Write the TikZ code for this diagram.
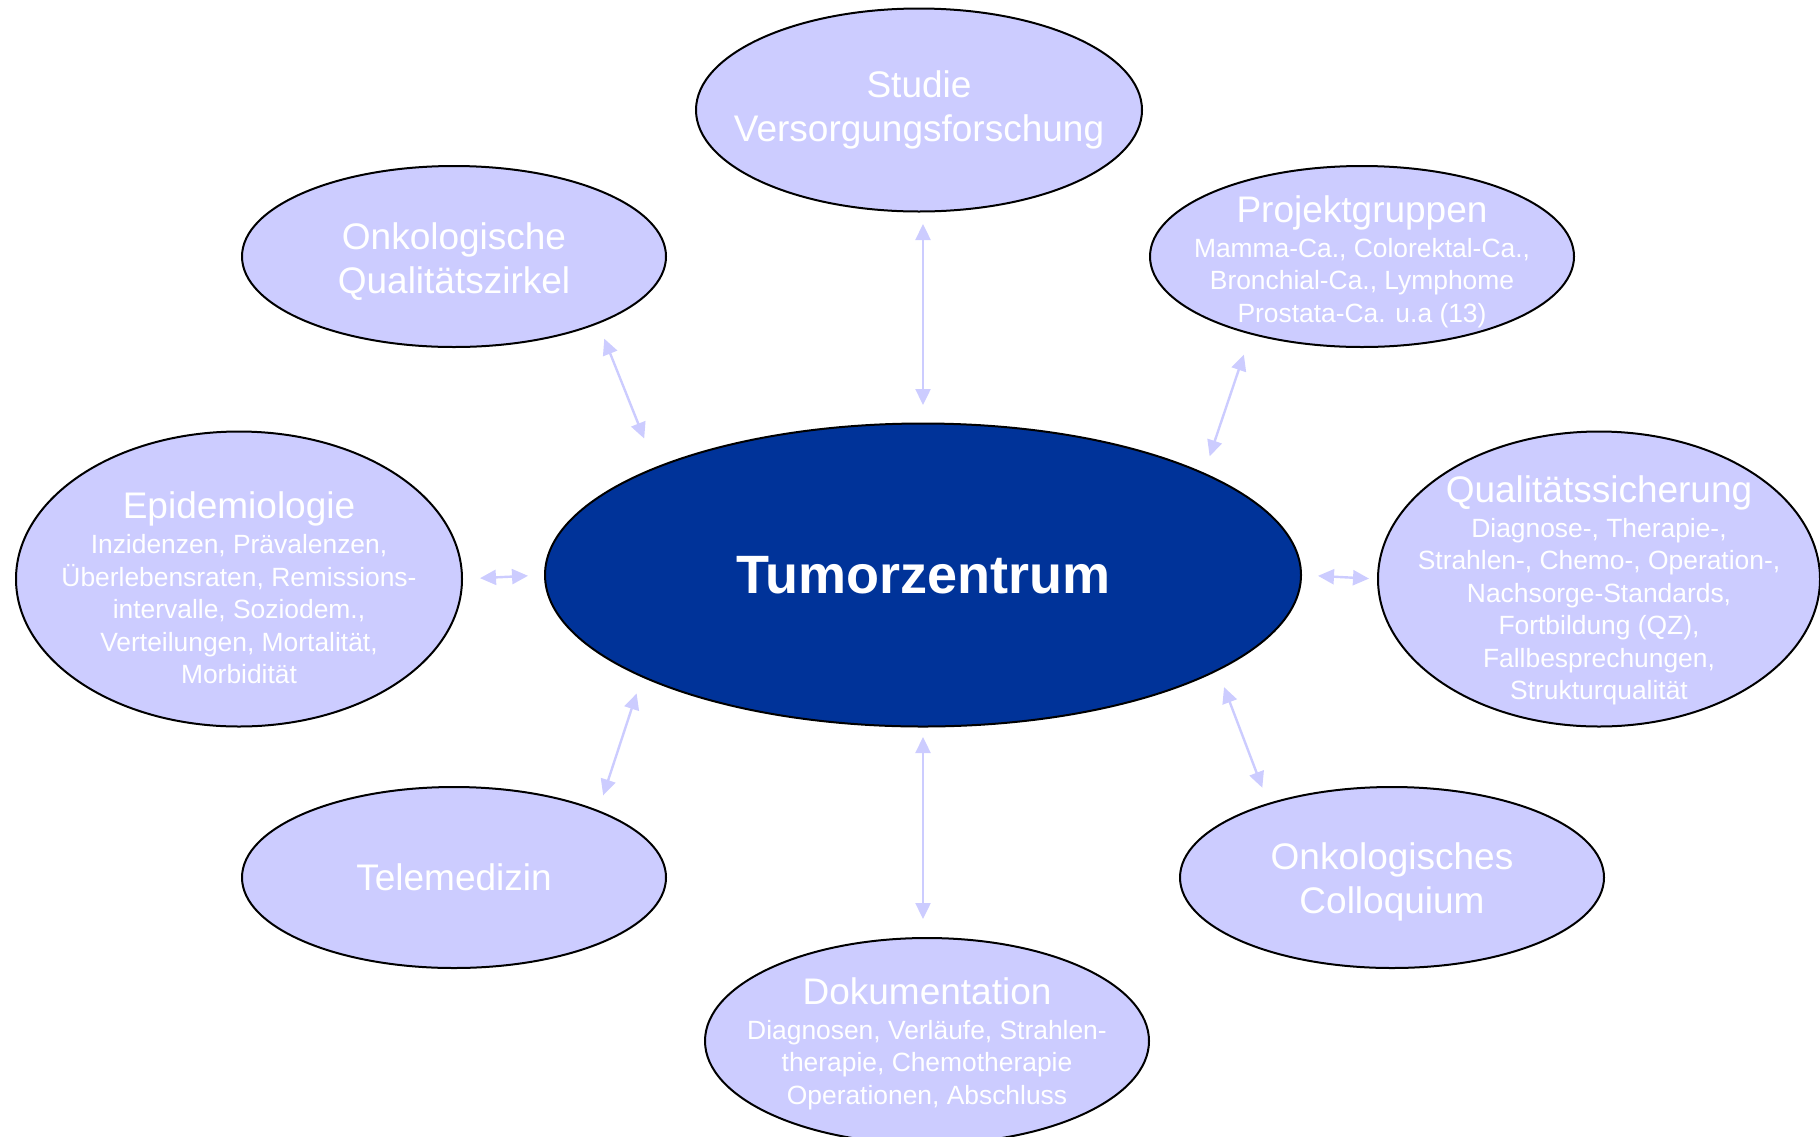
\documentclass[tikz,border=0pt]{standalone}
\usepackage{fontspec}
\setmainfont{Liberation Sans}
\usetikzlibrary{shapes,arrows.meta}
\definecolor{lav}{HTML}{CCCCFF}
\definecolor{navy}{HTML}{003399}
\newcommand{\ttl}[1]{{\fontsize{18.5}{22}\selectfont #1}\\[1.2pt]}

\begin{document}
\begin{tikzpicture}[x=0.5pt,y=-0.5pt,
  bub/.style={ellipse,draw=black,line width=1pt,fill=lav,inner sep=0pt},
  txt/.style={text=white,align=center,font=\fontsize{13.2}{16.25}\selectfont},
  big/.style={text=white,align=center,font=\fontsize{18.5}{22}\selectfont},
  lnk/.style={<->,>={Triangle[length=8pt,width=7.5pt]},draw=lav,line width=1.2pt}]
  \useasboundingbox (0,0) rectangle (1820,1136);

  % centre
  \node[ellipse,draw=black,line width=1pt,fill=navy,minimum width=378pt,minimum height=151.5pt,
        text=white,font=\fontsize{27}{30}\selectfont\bfseries] (tz) at (923,575) {Tumorzentrum};

  % bubbles round it
  \node[bub,minimum width=223pt,minimum height=101.5pt] (stu) at (919,110) {};
  \node[bub,minimum width=212pt,minimum height=90.5pt] (qz) at (454,256.5) {};
  \node[bub,minimum width=212pt,minimum height=90.5pt] (pg) at (1362,256.5) {};
  \node[bub,minimum width=223pt,minimum height=147.5pt] (epi) at (239,579) {};
  \node[bub,minimum width=221pt,minimum height=147.5pt] (qs) at (1599,579) {};
  \node[bub,minimum width=212pt,minimum height=90.5pt] (tel) at (454,877.5) {};
  \node[bub,minimum width=212pt,minimum height=90.5pt] (kol) at (1392,877.5) {};
  \node[bub,minimum width=222pt,minimum height=103pt] (dok) at (927,1041) {};

  \node[big] (stuT) at (stu) {Studie\\Versorgungsforschung};
  \node[big,yshift=-2.3pt] (qzT) at (qz) {Onkologische\\Qualitätszirkel};
  \node[txt,yshift=-2.6pt] (pgT) at (pg) {\ttl{Projektgruppen}Mamma-Ca., Colorektal-Ca.,\\Bronchial-Ca., Lymphome\\Prostata-Ca. u.a (13)};
  \node[txt,yshift=-4.4pt] (epiT) at (epi) {\ttl{Epidemiologie}Inzidenzen, Prävalenzen,\\Überlebensraten, Remissions-\\intervalle, Soziodem.,\\Verteilungen, Mortalität,\\Morbidität};
  \node[txt,yshift=-5.6pt] (qsT) at (qs) {\ttl{Qualitätssicherung}Diagnose-, Therapie-,\\Strahlen-, Chemo-, Operation-,\\Nachsorge-Standards,\\Fortbildung (QZ),\\Fallbesprechungen,\\Strukturqualität};
  \node[big] (telT) at (tel) {Telemedizin};
  \node[big,yshift=-2.3pt] (kolT) at (kol) {Onkologisches\\Colloquium};
  \node[txt,yshift=-1.4pt] (dokT) at (dok) {\ttl{Dokumentation}Diagnosen, Verläufe, Strahlen-\\therapie, Chemotherapie\\Operationen, Abschluss};

  % links
  \draw[lnk,shorten <=5.75pt,shorten >=8.75pt] (tz.north |- stu.south) -- (tz.north);
  \draw[lnk,shorten <=4.75pt,shorten >=9pt] (tz.south) -- (tz.south |- dok.north);
  \draw[lnk,shorten <=8.5pt,shorten >=8pt] (epi.east) -- (tz.west);
  \draw[lnk,shorten <=8pt,shorten >=4pt] (tz.east) -- (qs.west);
  \draw[lnk,shorten <=8pt,shorten >=15.3pt] (qz.-25.5) -- (tz.158.9);
  \draw[lnk,shorten <=10.6pt,shorten >=8.7pt] (pg.215.3) -- (tz.20.3);
  \draw[lnk,shorten <=8.5pt,shorten >=7.8pt] (tz.200.4) -- (tel.25.1);
  \draw[lnk,shorten <=8.7pt,shorten >=8.2pt] (tz.-18.1) -- (kol.149.7);
\end{tikzpicture}
\end{document}
